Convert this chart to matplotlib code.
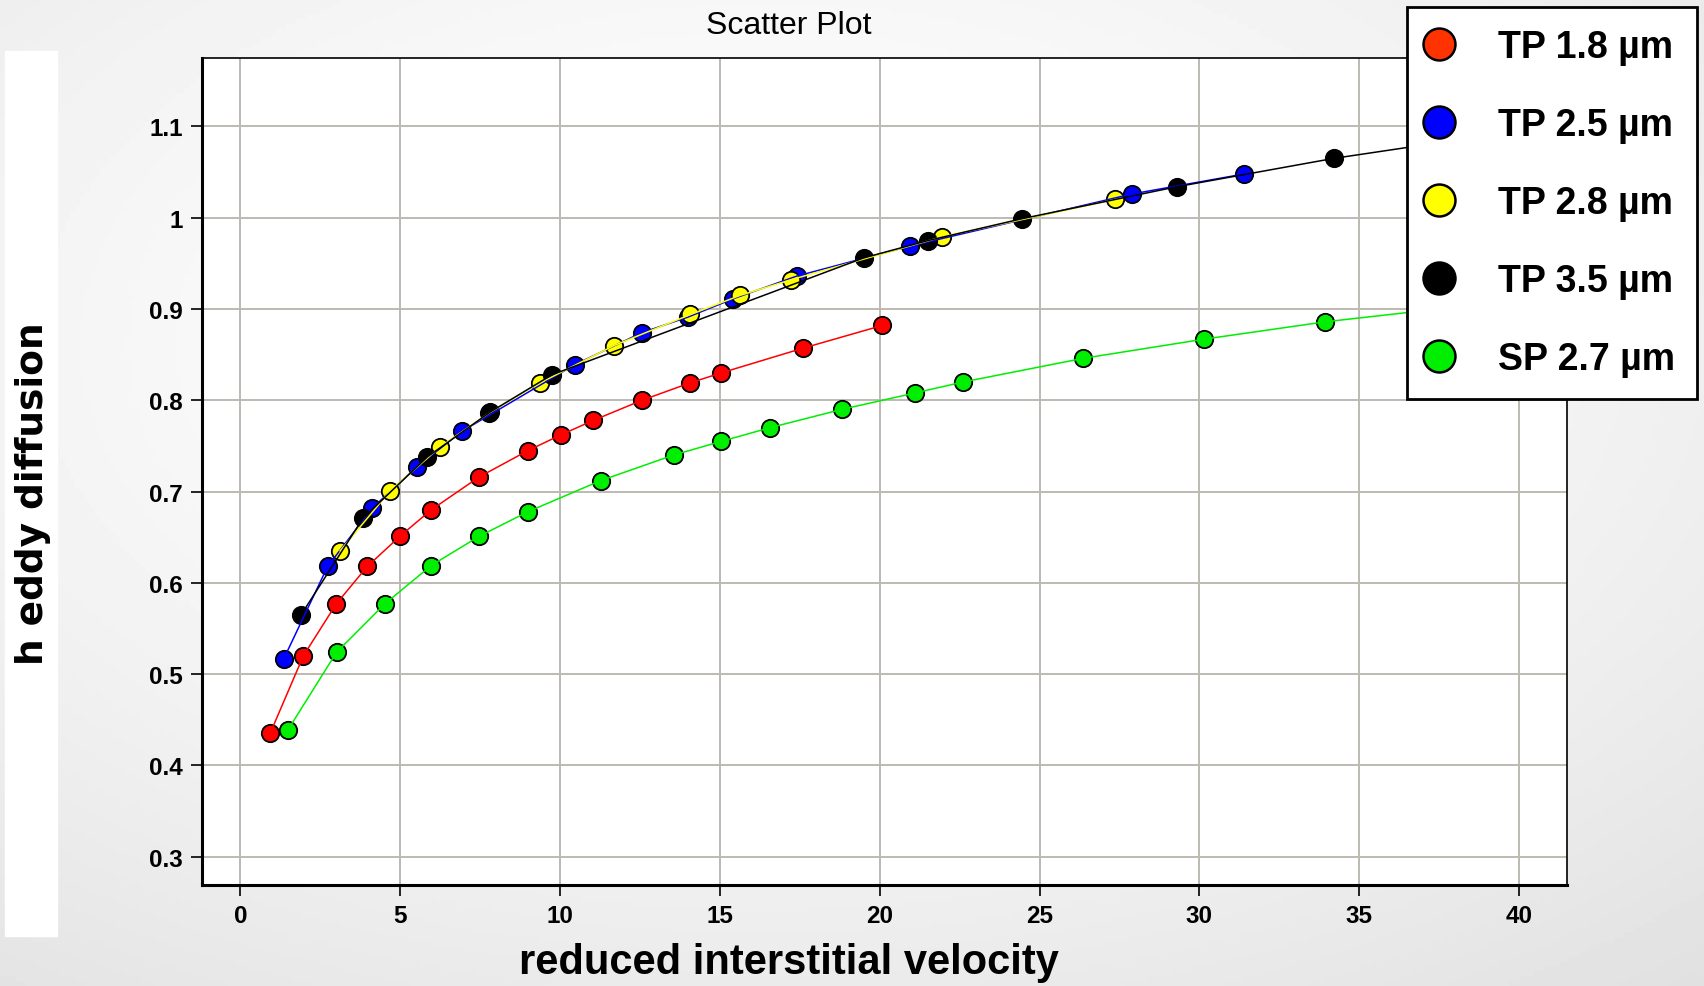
import numpy as np
import matplotlib
matplotlib.use("Agg")
import matplotlib.pyplot as plt
from matplotlib.lines import Line2D

# data
tp18_x = [0.93, 1.97, 3.0, 3.97, 4.99, 5.97, 7.47, 9.0, 10.02, 11.04, 12.56, 14.06, 15.04, 17.59, 20.08]
tp18_y = [0.435, 0.520, 0.577, 0.618, 0.651, 0.680, 0.716, 0.745, 0.762, 0.778, 0.800, 0.819, 0.830, 0.857, 0.882]

tp25_x = [1.36, 2.73, 4.13, 5.52, 6.93, 10.46, 12.55, 13.99, 15.40, 17.40, 20.95, 27.89, 31.41]
tp25_y = [0.517, 0.618, 0.682, 0.727, 0.766, 0.839, 0.874, 0.891, 0.911, 0.936, 0.969, 1.026, 1.048]

tp28_x = [3.12, 4.69, 6.25, 7.78, 9.37, 11.69, 14.08, 15.64, 17.22, 21.94, 27.36]
tp28_y = [0.635, 0.701, 0.749, 0.786, 0.819, 0.860, 0.894, 0.915, 0.932, 0.979, 1.020]

tp35_x = [1.90, 3.84, 5.85, 7.81, 9.75, 19.50, 21.51, 24.46, 29.30, 34.20, 39.0]
tp35_y = [0.565, 0.671, 0.738, 0.787, 0.828, 0.956, 0.975, 0.999, 1.034, 1.065, 1.090]

sp27_x = [1.49, 3.01, 4.52, 5.97, 7.47, 9.0, 11.27, 13.55, 15.04, 16.57, 18.81, 21.1, 22.6, 26.37, 30.15, 33.94, 39.0]
sp27_y = [0.439, 0.524, 0.577, 0.619, 0.651, 0.678, 0.712, 0.740, 0.755, 0.770, 0.790, 0.808, 0.820, 0.846, 0.867, 0.886, 0.906]

labels = ["TP 1.8 µm", "TP 2.5 µm", "TP 2.8 µm", "TP 3.5 µm", "SP 2.7 µm"]

W, H = 1704, 987
fig = plt.figure(figsize=(W / 100, H / 100), dpi=100)

# soft grey gradient background
bg = fig.add_axes([0, 0, 1, 1], zorder=-10)
yy, xx = np.mgrid[0:1:200j, 0:1:340j]
r = np.sqrt(((xx - 0.45) / 0.9) ** 2 + ((yy - 0.35) / 0.9) ** 2)
shade = 1.0 - 0.13 * np.clip(r, 0, 1) ** 1.5
bg.imshow(shade, cmap="gray", vmin=0, vmax=1, extent=[0, 1, 0, 1], aspect="auto", origin="upper")
bg.add_patch(plt.Rectangle((5 / W, 1 - 937 / H), 52 / W, 885 / H, color="white", zorder=2))
bg.axis("off")

sans = ["Liberation Sans", "DejaVu Sans"]

ax = fig.add_axes([202 / W, 1 - 886 / H, (1567 - 202) / W, (886 - 59) / H])
ax.set_facecolor("white")

# markers first, connecting lines drawn over them
series = [
    (tp18_x, tp18_y, "#ff0000", 3, 11),
    (sp27_x, sp27_y, "#00ee00", 3, 11),
    (tp25_x, tp25_y, "#0000ff", 4, 12),
    (tp28_x, tp28_y, "#ffff00", 5, 13),
    (tp35_x, tp35_y, "#000000", 6, 14),
]
for x, y, c, zm, zl in series:
    ax.plot(x, y, ls="none", marker="o", ms=12.5, mfc=c, mec="black", mew=1.3, zorder=zm)
    ax.plot(x, y, color=c, lw=1.1, zorder=zl)

ax.set_xlim(-1.2, 41.5)
ax.set_ylim(0.269, 1.175)
ax.set_xticks(range(0, 41, 5))
ax.set_yticks([0.3, 0.4, 0.5, 0.6, 0.7, 0.8, 0.9, 1.0, 1.1])
ax.set_yticklabels(["0.3", "0.4", "0.5", "0.6", "0.7", "0.8", "0.9", "1", "1.1"])
ax.grid(True, color="#bdbab2", lw=1.4, zorder=0)
ax.set_axisbelow(True)
ax.tick_params(direction="out", length=8, width=1.2, labelsize=17.5, pad=6)
for lab in ax.get_xticklabels() + ax.get_yticklabels():
    lab.set_family(sans)
    lab.set_fontweight("bold")
ax.spines["left"].set_linewidth(2.2)
ax.spines["bottom"].set_linewidth(2.2)
ax.spines["top"].set_linewidth(1.2)
ax.spines["right"].set_linewidth(1.2)

fig.text(789 / W, 1 - 26 / H, "Scatter Plot", ha="center", va="center", fontsize=23, family=sans)
fig.text(789 / W, 1 - 963 / H, "reduced interstitial velocity", ha="center", va="center",
         fontsize=30, fontweight="bold", family=sans)
fig.text(33 / W, 1 - 494 / H, "h eddy diffusion", ha="center", va="center", rotation=90,
         fontsize=27, fontweight="bold", family=["DejaVu Sans"])

legend_colors = ["#ff3300", "#0000ff", "#ffff00", "#000000", "#00ee00"]
handles = [Line2D([], [], ls="none", marker="o", ms=23, mfc=c, mec="black", mew=1.8)
           for c in legend_colors]
leg = ax.legend(handles, labels, loc="upper right", bbox_to_anchor=(1697 / W, 1 - 8 / H),
                bbox_transform=fig.transFigure, frameon=True, fancybox=False, borderaxespad=0,
                prop={"family": sans, "weight": "bold", "size": 27},
                labelspacing=1.12, handletextpad=1.33, borderpad=0.58, handlelength=0.52)
leg.get_frame().set_edgecolor("black")
leg.get_frame().set_linewidth(2)
leg.get_frame().set_alpha(1)
leg.set_zorder(20)

fig.savefig("out.png", dpi=100)
